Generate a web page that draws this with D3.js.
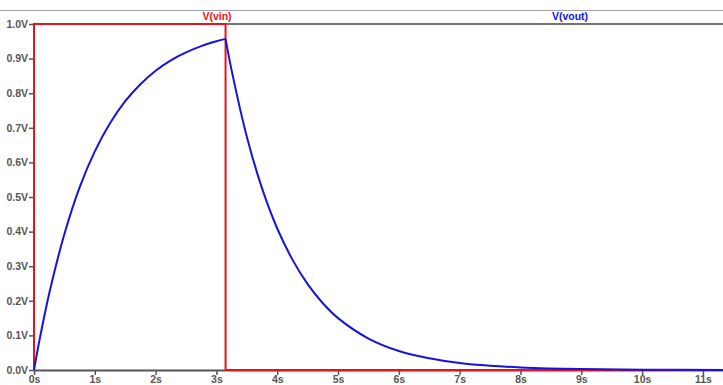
<!DOCTYPE html>
<html><head><meta charset="utf-8">
<script src="https://cdn.jsdelivr.net/npm/d3@7"></script>
<style>body{margin:0;background:#fff}svg{display:block}</style>
</head><body>
<svg id="c" width="723" height="385"></svg>
<script>
const xTicks = [0,1,2,3,4,5,6,7,8,9,10,11];
const xTickLabels = ["0s","1s","2s","3s","4s","5s","6s","7s","8s","9s","10s","11s"];
const yTicks = [0,0.1,0.2,0.3,0.4,0.5,0.6,0.7,0.8,0.9,1.0];
const yTickLabels = ["0.0V","0.1V","0.2V","0.3V","0.4V","0.5V","0.6V","0.7V","0.8V","0.9V","1.0V"];
const seriesNames = ["V(vin)","V(vout)"];
// V(vin): pulse
const vinT = [0, 0, 3.15, 3.15, 11.33];
const vinV = [0, 1, 1, 0, 0];
// V(vout)
const voutT = [0,0.05,0.1,0.25,0.5,0.75,1,1.25,1.5,1.75,2,2.25,2.5,2.75,3,3.15,3.25,3.5,3.75,4,4.25,4.5,4.75,5,5.5,6,6.5,7,7.5,8,9,10,11.33];
const voutV = [0,0.049,0.095,0.221,0.393,0.528,0.632,0.713,0.777,0.826,0.865,0.895,0.918,0.936,0.95,0.957,0.866,0.674,0.525,0.409,0.319,0.248,0.193,0.15,0.091,0.055,0.034,0.02,0.012,0.0075,0.0028,0.001,0.0002];

const svg = d3.select("#c");
const x = d3.scaleLinear().domain([0, 11.33]).range([34, 723]);
const y = d3.scaleLinear().domain([0, 1]).range([370, 24]);
const red = "#e8121a", blue = "#1414dc", grey = "#555";
const font = "bold 10.5px 'Liberation Sans', Arial, sans-serif";

svg.append("line").attr("x1",0).attr("x2",723).attr("y1",10.5).attr("y2",10.5).attr("stroke","#a0a0a0").attr("stroke-width",1);
svg.append("line").attr("x1",34).attr("x2",723).attr("y1",24).attr("y2",24).attr("stroke","#444").attr("stroke-width",1.5);

const xAxis = d3.axisBottom(x).tickValues(xTicks).tickFormat((d,i)=>xTickLabels[i]).tickSize(5).tickPadding(1);
const gx = svg.append("g").attr("transform","translate(0,370)").call(xAxis);
gx.select(".domain").remove();
svg.append("line").attr("x1",34).attr("x2",723).attr("y1",370.5).attr("y2",370.5).attr("stroke","#555").attr("stroke-width",2);
gx.selectAll(".tick line").attr("stroke","#555").attr("stroke-width",1.5);
gx.selectAll("text").attr("fill",grey).style("font",font);

const yAxis = d3.axisLeft(y).tickValues(yTicks).tickFormat((d,i)=>yTickLabels[i]).tickSize(5).tickPadding(1);
const gy = svg.append("g").attr("transform","translate(34,0)").call(yAxis);
gy.select(".domain").attr("stroke","#555").attr("stroke-width",1.5).attr("d","M0,24V370");
gy.selectAll(".tick line").attr("stroke","#555").attr("stroke-width",1.5);
gy.selectAll("text").attr("fill",grey).style("font",font);

const line = d3.line().x(d=>x(d[0])).y(d=>y(d[1]));
svg.append("path").datum(vinT.map((t,i)=>[t,vinV[i]])).attr("d",line).attr("fill","none").attr("stroke",red).attr("stroke-width",2);

const pts = voutT.map((t,i)=>[t,voutV[i]]);
const peak = voutV.indexOf(d3.max(voutV));
const smooth = d3.line().x(d=>x(d[0])).y(d=>y(d[1])).curve(d3.curveCatmullRom.alpha(0.5));
[pts.slice(0,peak+1), pts.slice(peak)].forEach(seg=>{
  svg.append("path").datum(seg).attr("d",smooth).attr("fill","none").attr("stroke",blue).attr("stroke-width",2).attr("stroke-linejoin","round");
});

svg.append("text").attr("x",217).attr("y",20).attr("text-anchor","middle").attr("fill",red)
  .style("font",font).text(seriesNames[0]);
svg.append("text").attr("x",570).attr("y",20).attr("text-anchor","middle").attr("fill",blue)
  .style("font",font).text(seriesNames[1]);
</script>
</body></html>
